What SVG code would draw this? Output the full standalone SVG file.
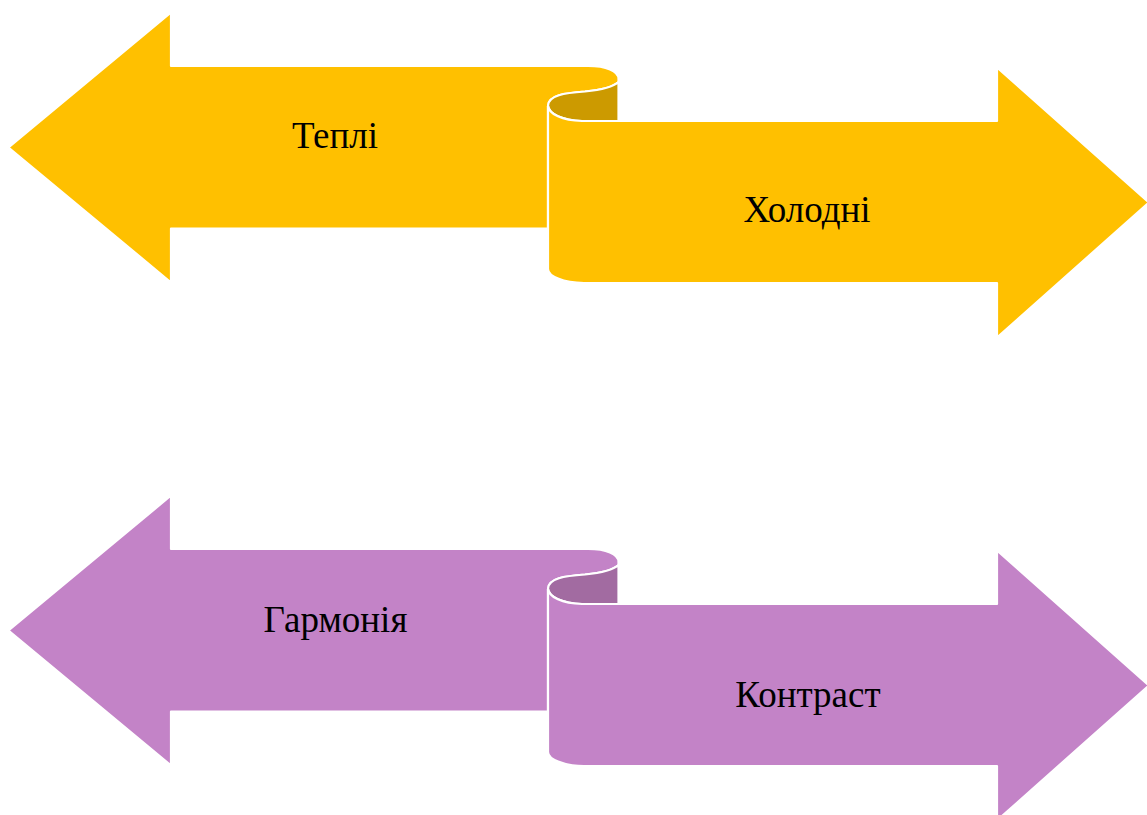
<svg xmlns="http://www.w3.org/2000/svg" width="1147" height="815" viewBox="0 0 1147 815">
<style>
.y{fill:#FFC000;stroke:#FFFFFF;stroke-width:2.2;stroke-linejoin:round}
.yd{fill:#CC9A00;stroke:#FFFFFF;stroke-width:2.2}
.p{fill:#C383C7;stroke:#FFFFFF;stroke-width:2.2;stroke-linejoin:round}
.pd{fill:#A26BA1;stroke:#FFFFFF;stroke-width:2.2}
.t{font-family:"Liberation Serif","Times New Roman",serif;font-size:37px;fill:#000000;text-anchor:middle}
</style>
<defs>
<path id="la" d="M8.5,147.5 L171,12.5 L171,66 L588,66 C606,66 618.5,71 618.5,79 L618.5,82 C612,88 600,90 585,91.5 C565,93 548,95 548,106 L548,228.5 L171,228.5 L171,282.5 Z"/>
<path id="cu" d="M618.5,82 C612,88 600,90 585,91.5 C565,93 548,95 548,106 C549,114 562,120.5 582,121 L618.5,121 Z"/>
<path id="ra" d="M548,106 C549,114 562,120.5 582,121 L997,121 L997,67.5 L1149,202.5 L997,337.5 L997,283 L584,283 C563,283 548,276 548,269 Z"/>
</defs>
<g id="node-tepli">
<use href="#la" class="y"/>
<text class="t" x="335" y="147.5">Теплі</text>
</g>
<g id="node-kholodni">
<use href="#cu" class="yd"/>
<use href="#ra" class="y"/>
<text class="t" x="807" y="221.5">Холодні</text>
</g>
<g id="node-harmoniia">
<use href="#la" class="p" transform="translate(0,483)"/>
<text class="t" x="335.5" y="632">Гармонія</text>
</g>
<g id="node-kontrast">
<use href="#cu" class="pd" transform="translate(0,483)"/>
<use href="#ra" class="p" transform="translate(0,483)"/>
<text class="t" x="808" y="706.5">Контраст</text>
</g>
<g id="connectors"></g>
</svg>
